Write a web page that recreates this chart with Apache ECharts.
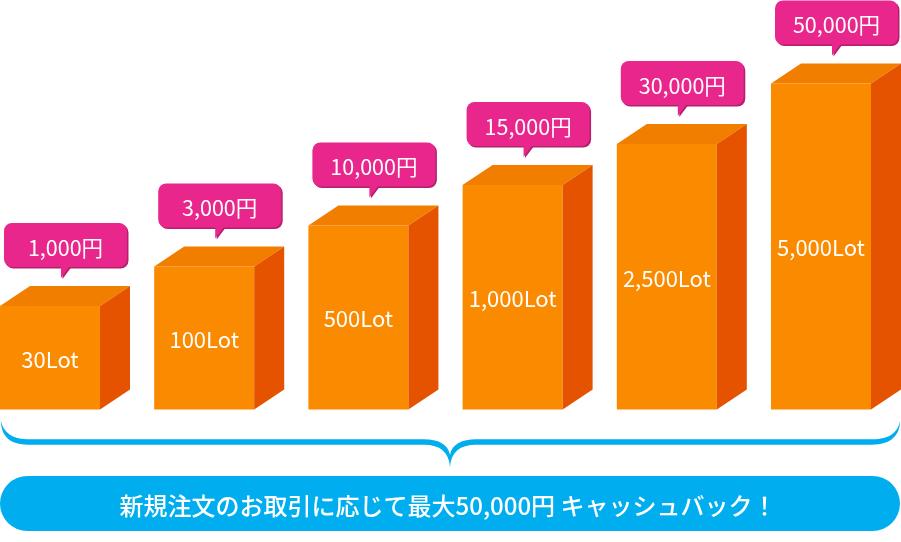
<!DOCTYPE html>
<html>
<head>
<meta charset="utf-8">
<script src="https://cdn.jsdelivr.net/npm/echarts@6/dist/echarts.min.js"></script>
<style>
html,body{margin:0;padding:0;background:#fff;}
#main{width:901px;height:542px;}
</style>
</head>
<body>
<div id="main"></div>
<script>
// ---- data ----
const categories = ['30Lot', '100Lot', '500Lot', '1,000Lot', '2,500Lot', '5,000Lot'];
const lots = [30, 100, 500, 1000, 2500, 5000];
const cashback = [1000, 3000, 10000, 15000, 30000, 50000];
// drawn bar heights (the picture is not to scale)
const barHeights = [103.5, 143, 184, 224.5, 265.5, 326];
const bannerText = '新規注文のお取引に応じて最大50,000円 キャッシュバック！';

function fmt(n) { return n.toString().replace(/\B(?=(\d{3})+(?!\d))/g, ','); }

const seriesData = categories.map((c, i) => [i, barHeights[i], fmt(lots[i]) + 'Lot', fmt(cashback[i]) + '円']);

const FONT = '"Noto Sans CJK JP", "Noto Sans", sans-serif';

function renderItem(params, api) {
  const idx = api.value(0);
  const base = api.coord([idx, 0]);
  const top = api.coord([idx, api.value(1)]);
  const band = api.size([1, 0])[0];
  const halfW = band * 0.3243;
  const dx = band * 0.1946;
  const dy = 20;
  const cx = base[0];
  const L = cx - halfW, R = cx + halfW;
  const yT = top[1], yB = base[1];
  const backTop = yT - dy;
  const bubbleH = 44, bubbleW = 123;
  const bx = L + 4, bBottom = backTop - 19, by = bBottom - bubbleH;
  const lotText = seriesData[params.dataIndex][2];
  const yenText = seriesData[params.dataIndex][3];
  return {
    type: 'group',
    children: [
      { type: 'rect', shape: { x: L, y: yT, width: R - L, height: yB - yT }, style: { fill: '#FA8A00' } },
      { type: 'polygon', shape: { points: [[L, yT], [R, yT], [R + dx, yT - dy], [L + dx, yT - dy]] }, style: { fill: '#F27E00' } },
      { type: 'polygon', shape: { points: [[R, yT], [R + dx, yT - dy], [R + dx, yB - dy], [R, yB]] }, style: { fill: '#E55300' } },
      { type: 'text', style: { text: lotText, x: cx, y: (yT + yB) / 2 + 1.5, align: 'center', verticalAlign: 'middle', fill: '#fff', font: '22px ' + FONT } },
      // bubble
      { type: 'rect', shape: { x: bx + 1.5, y: by + 1.5, width: bubbleW, height: bubbleH, r: 8 }, style: { fill: '#B3216C' } },
      { type: 'polygon', shape: { points: [[L + 62.5, bBottom], [L + 62.5, backTop - 7], [L + 71.5, bBottom]] }, style: { fill: '#B3216C' } },
      { type: 'rect', shape: { x: bx, y: by, width: bubbleW, height: bubbleH, r: 8 }, style: { fill: '#E9268C' } },
      { type: 'polygon', shape: { points: [[L + 61, bBottom - 1], [L + 61, backTop - 8], [L + 70, bBottom - 1]] }, style: { fill: '#E9268C' } },
      { type: 'text', style: { text: yenText, x: bx + bubbleW / 2, y: by + bubbleH / 2 + 2.5, align: 'center', verticalAlign: 'middle', fill: '#fff', font: '21.5px ' + FONT } }
    ]
  };
}

const BRACE = 'M1,421 C1,436 10,444.7 28,444.7 L424,444.7 C440,444.7 449,452 450,467 C451,452 460,444.7 476,444.7 L872,444.7 C890,444.7 900,436 900,421 C898,432 890,439.3 872,439.3 L476,439.3 C462,439.3 452,444 450,455 C448,444 438,439.3 424,439.3 L28,439.3 C12,439.3 3,432 1,421 Z';

function renderBrace(params, api) {
  return {
    type: 'path',
    shape: { pathData: BRACE, x: 1, y: 421, width: 899, height: 46, layout: 'cover' },
    style: { fill: '#00AEEF' }
  };
}

const PITCH = 154.2;
const chart = echarts.init(document.getElementById('main'), null, { renderer: 'canvas' });
chart.setOption({
  animation: false,
  backgroundColor: '#fff',
  grid: { left: 0, right: 0, top: 9.5, bottom: 132.5, containLabel: false },
  xAxis: { type: 'value', min: -50 / PITCH, max: (901 - 50) / PITCH, show: false },
  yAxis: { type: 'value', min: 0, max: 400, show: false },
  series: [{
    type: 'custom',
    renderItem: renderItem,
    data: seriesData,
    encode: { x: 0, y: 1 },
    clip: false
  }, {
    type: 'custom',
    renderItem: renderBrace,
    data: [[0, 0]],
    clip: false,
    silent: true
  }],
  graphic: [
    {
      type: 'rect',
      shape: { x: 0, y: 476, width: 900, height: 55, r: 27.5 },
      style: { fill: '#00AEEF' }
    },
    {
      type: 'text',
      style: { text: bannerText, x: 448, y: 505.5, align: 'center', verticalAlign: 'middle', fill: '#fff', font: '500 24px ' + FONT }
    }
  ]
});
</script>
</body>
</html>
